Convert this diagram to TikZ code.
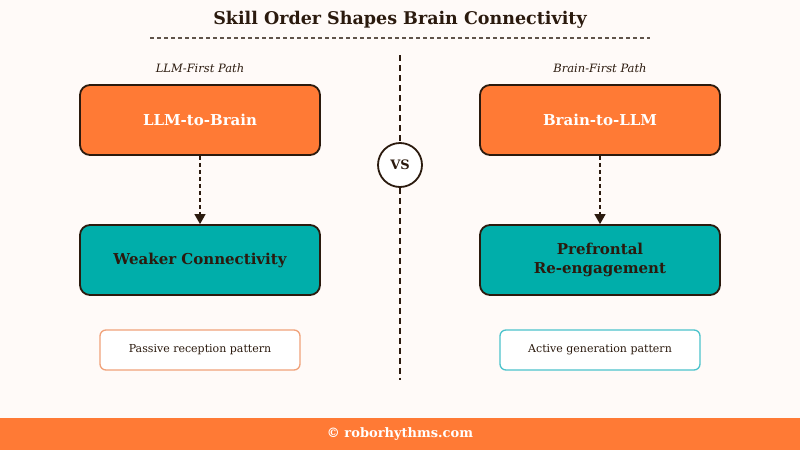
\documentclass[tikz,border=0pt]{standalone}
\usepackage{fontspec}
\setmainfont{DejaVu Serif}
\usetikzlibrary{arrows.meta}
\definecolor{bg}{HTML}{FFFAF8}
\definecolor{org}{HTML}{FF7A35}
\definecolor{teal}{HTML}{00AEAA}
\definecolor{dk}{HTML}{2B1A0E}
\definecolor{lorg}{HTML}{F0A27A}
\definecolor{lteal}{HTML}{4CC3CC}
\begin{document}
\begin{tikzpicture}[x=1pt,y=-1pt,
  big/.style={draw=dk,line width=1.8pt,rounded corners=10pt,minimum width=240pt,minimum height=70pt,align=center,font=\bfseries\fontsize{15}{19}\selectfont},
  note/.style={rounded corners=6pt,line width=1.3pt,fill=white,minimum width=200pt,minimum height=40pt,font=\fontsize{11}{13}\selectfont,text=dk},
  lab/.style={font=\itshape\fontsize{11.5}{13}\selectfont,text=dk},
  arr/.style={dk,line width=1.4pt,dash pattern=on 4pt off 3pt,-{Triangle[length=10pt,width=11pt]}}]
\fill[bg] (0,0) rectangle (800,450);
\useasboundingbox (0,0) rectangle (800,450);
\node[font=\bfseries\fontsize{17.5}{20}\selectfont,text=dk] (title) at (400,20) {Skill Order Shapes Brain Connectivity};
\draw[dk!75,line width=1.5pt,dash pattern=on 4pt off 3pt] (150,38) -- (650,38);
\node[lab] (l1) at (200,68) {LLM-First Path};
\node[lab] (l2) at (600,68) {Brain-First Path};
\node[big,fill=org,text=white] (a) at (200,120) {LLM-to-Brain};
\node[big,fill=teal,text=dk] (b) at (200,260) {Weaker Connectivity};
\node[big,fill=org,text=white] (c) at (600,120) {Brain-to-LLM};
\node[big,fill=teal,text=dk] (d) at (600,260) {Prefrontal\\Re-engagement};
\draw[arr] (a) -- (b);
\draw[arr] (c) -- (d);
\node[note,draw=lorg] (n1) at (200,350) {Passive reception pattern};
\node[note,draw=lteal] (n2) at (600,350) {Active generation pattern};
\coordinate (t) at (400,55); \coordinate (u) at (400,380);
\node[circle,draw=dk,line width=1.8pt,fill=white,minimum size=44pt,inner sep=0pt,font=\bfseries\fontsize{13}{15}\selectfont,text=dk] (vs) at (400,165) {VS};
\draw[dk,line width=1.4pt,dash pattern=on 6pt off 4pt] (t) -- (vs);
\draw[dk,line width=1.4pt,dash pattern=on 6pt off 4pt] (vs) -- (u);
\fill[org] (0,418) rectangle (800,450);
\node[font=\bfseries\fontsize{13}{15}\selectfont,text=white] (f) at (400,434) {© roborhythms.com};
\end{tikzpicture}
\end{document}
